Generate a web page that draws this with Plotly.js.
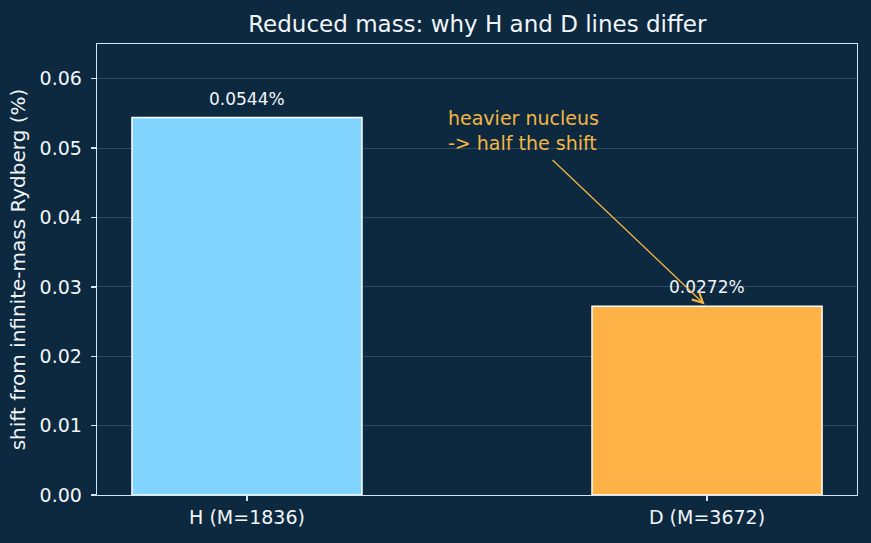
<!DOCTYPE html>
<html><head><meta charset="utf-8">
<script src="https://cdn.plot.ly/plotly-3.0.1.min.js"></script>
<style>html,body{margin:0;padding:0;background:#0c2940;}</style>
</head><body>
<div id="chart" style="width:871px;height:543px;"></div>
<script>
const categories = ["H (M=1836)", "D (M=3672)"];
const shiftPct = [0.0544, 0.0272];
const valueLabels = ["0.0544%", "0.0272%"];
const barColors = ["#80d4ff", "#ffb347"];
const yTicks = [0, 0.01, 0.02, 0.03, 0.04, 0.05, 0.06];

const bg = "#0c2940";
const fg = "#f2f5f8";
const spine = "#cfe6fb";
const accent = "#f5b642";

const trace = {
  type: "bar",
  x: [0, 1],
  y: shiftPct,
  width: 0.5,
  marker: {color: barColors, opacity: 1, line: {color: "#ffffff", width: 1.5}},
  hoverinfo: "none"
};

const annotations = categories.map((c, i) => ({
  x: i, y: shiftPct[i], xref: "x", yref: "y",
  text: valueLabels[i], showarrow: false,
  yanchor: "bottom", yshift: 7,
  font: {family: "DejaVu Sans", size: 17, color: fg}
}));
annotations.push({
  x: 0.995, y: 0.02745, xref: "x", yref: "y",
  ax: 0.661, ay: 0.0485, axref: "x", ayref: "y",
  text: "", showarrow: true, arrowhead: 5, arrowsize: 1.6, arrowwidth: 1.3,
  arrowcolor: accent, standoff: 0, startstandoff: 0
});
annotations.push({
  x: 0.6, y: 0.0525, xref: "x", yref: "y",
  text: "heavier nucleus<br>-> half the shift", showarrow: false,
  align: "left", xanchor: "center", yanchor: "middle",
  font: {family: "DejaVu Sans", size: 19, color: accent}
});

const layout = {
  width: 871, height: 543,
  paper_bgcolor: bg, plot_bgcolor: bg,
  margin: {l: 97, r: 14, t: 44, b: 48},
  showlegend: false,
  title: {text: "Reduced mass: why H and D lines differ", x: 0.548, xanchor: "center", y: 0.955, yanchor: "middle",
          font: {family: "DejaVu Sans", size: 23, color: fg}},
  xaxis: {
    range: [-0.326, 1.326], tickmode: "array", tickvals: [0, 1], ticktext: categories,
    showgrid: false, zeroline: false, showline: true, linecolor: spine, linewidth: 1.3, mirror: true,
    ticks: "outside", ticklen: 5, tickwidth: 1.3, tickcolor: spine,
    tickfont: {family: "DejaVu Sans", size: 19, color: fg}
  },
  yaxis: {
    range: [0, 0.065], tickmode: "array", tickvals: yTicks, ticktext: yTicks.map(v => v.toFixed(2)),
    showgrid: true, gridcolor: "rgba(160,190,215,0.28)", gridwidth: 0.8, zeroline: false,
    showline: true, linecolor: spine, linewidth: 1.3, mirror: true,
    ticks: "outside", ticklen: 5, tickwidth: 1.3, tickcolor: spine, ticklabelstandoff: 5,
    tickfont: {family: "DejaVu Sans", size: 19, color: fg},
    title: {text: "shift from infinite-mass Rydberg (%)", standoff: 8, font: {family: "DejaVu Sans", size: 20, color: fg}}
  },
  annotations: annotations
};

Plotly.newPlot("chart", [trace], layout, {displayModeBar: false, staticPlot: true});
</script>
</body></html>
